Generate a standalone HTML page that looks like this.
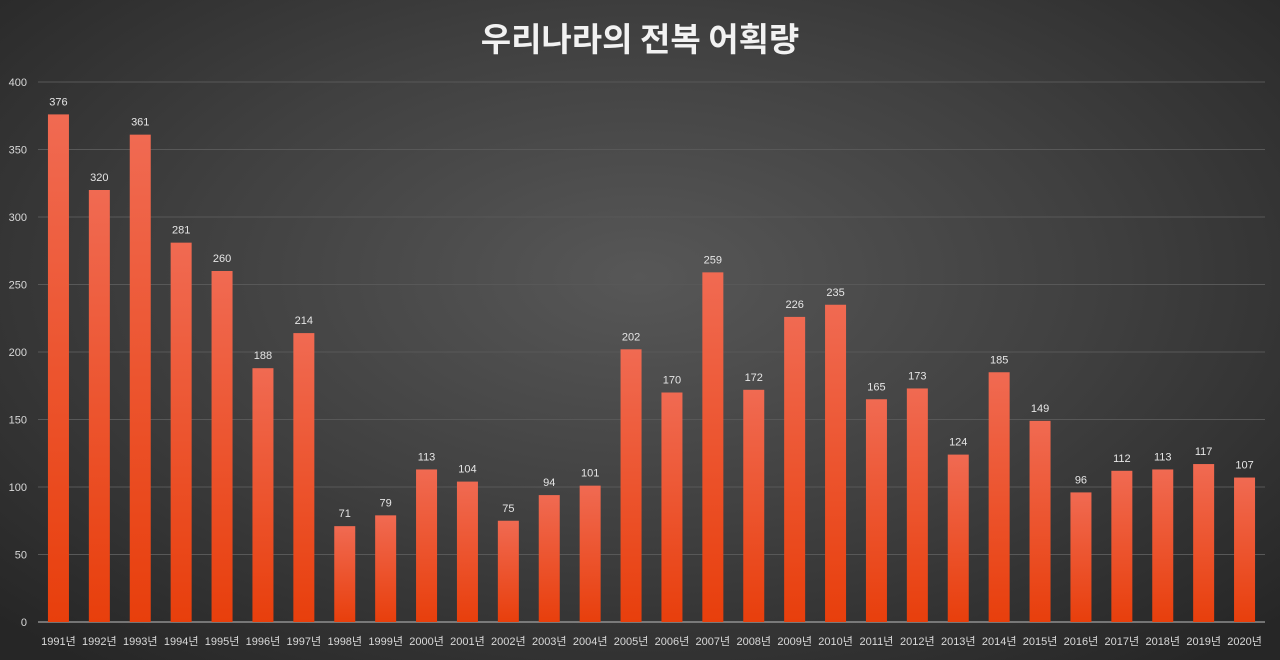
<!DOCTYPE html>
<html><head><meta charset="utf-8"><style>
html,body{margin:0;padding:0;}
body{width:1280px;height:660px;overflow:hidden;background:radial-gradient(ellipse 70% 75% at 50% 42%,#575757 0%,#404040 50%,#262626 100%);font-family:"Liberation Sans","Noto Sans CJK KR",sans-serif;}
svg{position:absolute;left:0;top:0;}
</style></head><body>
<svg width="1280" height="660" id="chart">
<defs><linearGradient id="bg" x1="0" y1="0" x2="0" y2="1"><stop offset="0" stop-color="#f06a52"/><stop offset="1" stop-color="#e83f0c"/></linearGradient></defs>
<text x="640" y="51" text-anchor="middle" fill="#f2f2f2" font-size="33" font-weight="bold" font-family="'Noto Sans CJK KR',sans-serif">우리나라의 전복 어획량</text>
<g id="grid"></g><g id="bars"></g><g id="labels"></g>
</svg>
<script>
const categories=["1991년","1992년","1993년","1994년","1995년","1996년","1997년","1998년","1999년","2000년","2001년","2002년","2003년","2004년","2005년","2006년","2007년","2008년","2009년","2010년","2011년","2012년","2013년","2014년","2015년","2016년","2017년","2018년","2019년","2020년"];
const values=[376,320,361,281,260,188,214,71,79,113,104,75,94,101,202,170,259,172,226,235,165,173,124,185,149,96,112,113,117,107];
const yTicks=[0,50,100,150,200,250,300,350,400];
const ns="http://www.w3.org/2000/svg";
const x0=38,x1=1265,yBase=622,yTop=82,yMax=400;
const y=v=>yBase-(v/yMax)*(yBase-yTop);
const step=(x1-x0)/categories.length;
const xc=i=>x0+step*(i+0.5);
function mk(t,a,p){const e=document.createElementNS(ns,t);for(const k in a)e.setAttribute(k,a[k]);p.appendChild(e);return e;}
const g=document.getElementById('grid'),b=document.getElementById('bars'),l=document.getElementById('labels');
yTicks.forEach(t=>{
  const ln=mk('line',{x1:x0,x2:x1,y1:y(t),y2:y(t),stroke:t===0?'#bfbfbf':'#585858','stroke-width':1},g);
  
  
  const tx=mk('text',{x:27,y:y(t)+4,'text-anchor':'end',fill:'#d9d9d9','font-size':11},g);
  tx.textContent=t;
  
  
});
values.forEach((v,i)=>{
  const r=mk('rect',{x:xc(i)-10.5,y:y(v),width:21,height:yBase-y(v),fill:'url(#bg)'},b);
  
  
  const vt=mk('text',{x:xc(i),y:y(v)-9,'text-anchor':'middle',fill:'#e6e6e6','font-size':11},l);
  vt.textContent=v;
  
  
  const ct=mk('text',{x:xc(i),y:645,'text-anchor':'middle',fill:'#d9d9d9','font-size':11},l);
  ct.textContent=categories[i];
  
  
});
</script>
</body></html>
